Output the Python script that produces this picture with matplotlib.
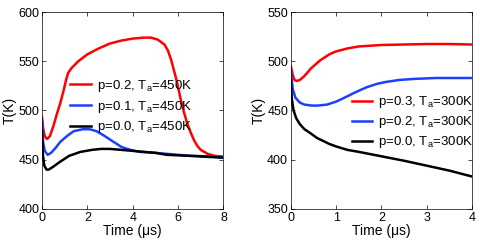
import matplotlib.pyplot as plt

plt.rcParams['font.family'] = ['Liberation Sans', 'DejaVu Sans']
plt.rcParams['mathtext.fontset'] = 'custom'
plt.rcParams['mathtext.rm'] = 'Liberation Sans'

# left panel: T_a = 450 K
t_left_red = [0, 0.05, 0.12, 0.22, 0.35, 0.5, 0.65, 0.8, 0.95, 1.05, 1.15, 1.3, 1.6, 2.0, 2.5, 3.0, 3.5, 4.0, 4.5, 4.8, 5.1, 5.4, 5.55, 5.7, 5.85, 5.95, 6.1, 6.25, 6.4, 6.55, 6.7, 6.85, 7.0, 7.3, 7.6, 8.0]
T_left_red = [493, 482, 474, 471, 474, 484, 496, 507, 520, 530, 538, 543, 550, 557, 563, 568, 571, 573, 574, 574, 572, 567, 561, 551, 538, 529, 513, 499, 487, 478, 470, 464, 460, 456, 454, 453]
t_left_blue = [0, 0.05, 0.12, 0.25, 0.4, 0.6, 0.8, 1.1, 1.4, 1.8, 2.1, 2.4, 2.7, 3.1, 3.5, 3.9, 4.3, 5.0, 5.5, 6.5, 8.0]
T_left_blue = [490, 468, 459, 455, 457, 462, 468, 474, 479, 481, 481, 479, 475, 469, 463, 460, 458, 457, 456, 454, 453]
t_left_black = [0, 0.04, 0.1, 0.2, 0.3, 0.5, 0.8, 1.2, 1.7, 2.2, 2.6, 3.0, 3.5, 4.0, 5.0, 5.5, 6.5, 8.0]
T_left_black = [480, 455, 444, 440, 440, 443, 448, 454, 458, 460, 461, 461, 460, 459, 457, 455, 454, 452]

# right panel: T_a = 300 K
t_right_red = [0, 0.04, 0.08, 0.13, 0.2, 0.3, 0.45, 0.65, 0.85, 1.0, 1.25, 1.5, 2.0, 2.5, 3.0, 3.5, 4.0]
T_right_red = [495, 486, 481, 480, 481, 485, 493, 501, 507, 510, 513, 515, 516.5, 517, 517.5, 517.5, 517]
t_right_blue = [0, 0.04, 0.1, 0.2, 0.3, 0.46, 0.6, 0.8, 1.0, 1.23, 1.45, 1.67, 1.9, 2.1, 2.4, 2.7, 3.2, 4.0]
T_right_blue = [490, 472, 463, 458, 456, 455, 455, 456, 459, 464, 469, 473.5, 477, 479, 481, 482, 483, 483]
t_right_black = [0, 0.02, 0.06, 0.12, 0.2, 0.3, 0.43, 0.58, 0.72, 0.85, 1.0, 1.25, 1.5, 2.0, 2.5, 3.0, 3.5, 4.0]
T_right_black = [480, 462, 450, 442, 436, 431, 427, 422, 419, 416, 413.5, 410, 408, 403.5, 399, 394, 389, 383]

labels_left = ['p=0.2, T$_\\mathregular{a}$=450K', 'p=0.1, T$_\\mathregular{a}$=450K', 'p=0.0, T$_\\mathregular{a}$=450K']
labels_right = ['p=0.3, T$_\\mathregular{a}$=300K', 'p=0.2, T$_\\mathregular{a}$=300K', 'p=0.0, T$_\\mathregular{a}$=300K']

fig = plt.figure(figsize=(4.8, 2.45), dpi=100)
ax1 = fig.add_axes([0.0875, 0.147, 0.378, 0.804])
ax2 = fig.add_axes([0.606, 0.147, 0.377, 0.804])

lw = 1.8
ax1.plot(t_left_red, T_left_red, color='#ff0000', lw=lw, label=labels_left[0])
ax1.plot(t_left_blue, T_left_blue, color='#1f3fff', lw=lw, label=labels_left[1])
ax1.plot(t_left_black, T_left_black, color='black', lw=lw, label=labels_left[2])
ax1.set_xlim(0, 8)
ax1.set_ylim(400, 600)
ax1.set_xticks([0, 2, 4, 6, 8])
ax1.set_yticks([400, 450, 500, 550, 600])

ax2.plot(t_right_red, T_right_red, color='#ff0000', lw=lw, label=labels_right[0])
ax2.plot(t_right_blue, T_right_blue, color='#1f3fff', lw=lw, label=labels_right[1])
ax2.plot(t_right_black, T_right_black, color='black', lw=lw, label=labels_right[2])
ax2.set_xlim(0, 4)
ax2.set_ylim(350, 550)
ax2.set_xticks([0, 1, 2, 3, 4])
ax2.set_yticks([350, 400, 450, 500, 550])

for ax in (ax1, ax2):
    ax.set_xlabel('Time (\u03bcs)', fontsize=10, labelpad=0)
    ax.set_ylabel('T(K)', fontsize=10, labelpad=1)
    ax.tick_params(direction='in', top=True, right=True, labelsize=9, length=3, width=0.5, pad=2)
    for s in ax.spines.values():
        s.set_linewidth(0.5)

ax1.legend(loc='center left', bbox_to_anchor=(0.12, 0.52), frameon=False, fontsize=9.5,
           handlelength=1.55, handletextpad=0.45, labelspacing=0.35, borderpad=0)
ax2.legend(loc='center left', bbox_to_anchor=(0.30, 0.44), frameon=False, fontsize=9.5,
           handlelength=1.55, handletextpad=0.45, labelspacing=0.3, borderpad=0)

fig.savefig('out.png', dpi=100)
